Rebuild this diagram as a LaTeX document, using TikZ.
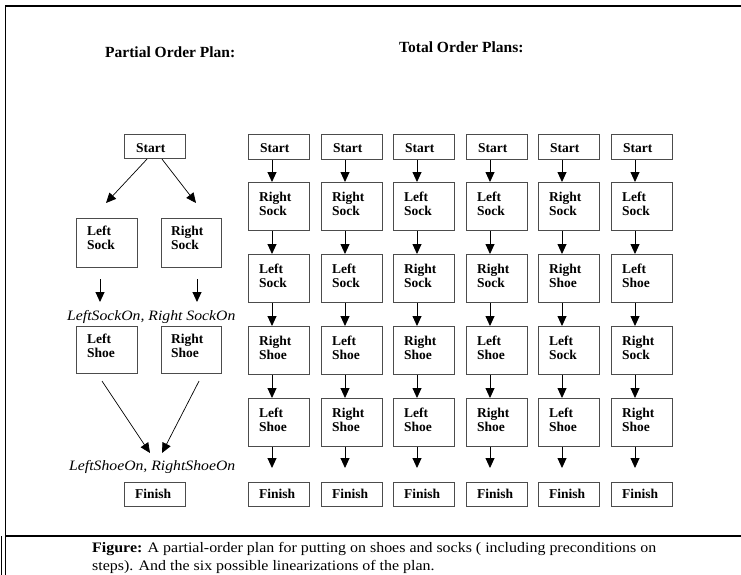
\documentclass[tikz,border=0pt]{standalone}
\usepackage{fontspec}
\usepackage{graphicx}
\setmainfont{Liberation Serif}
\usetikzlibrary{arrows.meta}
\newcommand\twoln[2]{\vtop{\baselineskip=14.5pt\hbox{#1}\hbox{#2}}}
\newcommand\RSk{\twoln{Right}{Sock}}
\newcommand\LSk{\twoln{Left}{Sock}}
\newcommand\RSh{\twoln{Right}{Shoe}}
\newcommand\LSh{\twoln{Left}{Shoe}}
\begin{document}
\begin{tikzpicture}[x=1pt,y=-1pt,
  stepbox/.style={draw=black!70, line width=1.1pt, minimum width=61pt, inner sep=0pt, anchor=north west},
  tallbox/.style={stepbox, minimum height=48pt},
  shortbox/.style={stepbox, minimum height=24pt},
  txt/.style={font=\fontsize{13.5}{14.5}\selectfont\bfseries, inner sep=0pt, anchor=base west},
  ttl/.style={font=\fontsize{15.5}{17}\selectfont\bfseries, inner sep=0pt, anchor=base west},
  itl/.style={font=\fontsize{14.3}{16}\selectfont\itshape, inner sep=0pt, anchor=base west},
  captxt/.style={font=\fontsize{14.5}{16}\selectfont, inner sep=0pt, anchor=base west},
  arr/.style={line width=0.9pt, -{Triangle[length=10pt,width=9pt]}},
  darr/.style={line width=0.7pt, -{Triangle[length=10pt,width=9pt]}},
]
\useasboundingbox (0,0) rectangle (741,575);
\fill[white] (0,0) rectangle (741,575);
% frame
\draw[line width=1.4pt] (5.5,575) -- (5.5,6) -- (741,6);
\draw[line width=1.2pt] (5.5,536) -- (741,536);
\draw[line width=1.2pt] (1.5,536) -- (1.5,575);
% titles
\node[ttl] (pt) at (105,58) {Partial Order Plan:};
\node[ttl] (tt) at (399,53) {Total Order Plans:};
% partial order plan
\node[shortbox] (ps) at (124,134) {};
\node[txt] (pst) at ([xshift=12pt,yshift=-18pt]ps.north west) {Start};
\node[tallbox, minimum height=49pt] (pls) at (76,218) {};
\node[txt] (plst) at ([xshift=11pt,yshift=-17pt]pls.north west) {\LSk};
\node[tallbox, minimum height=49pt, minimum width=60pt] (prs) at (161,218) {};
\node[txt] (prst) at ([xshift=10pt,yshift=-17pt]prs.north west) {\RSk};
\node[tallbox, minimum height=47pt] (plh) at (76,326) {};
\node[txt] (plht) at ([xshift=11pt,yshift=-17pt]plh.north west) {\LSh};
\node[tallbox, minimum height=47pt, minimum width=60pt] (prh) at (161,326) {};
\node[txt] (prht) at ([xshift=10pt,yshift=-17pt]prh.north west) {\RSh};
\node[shortbox] (pf) at (124,482) {};
\node[txt] (pft) at ([xshift=11pt,yshift=-16pt]pf.north west) {Finish};
\node[itl] (lab1) at (67,320) {\scalebox{1.1}[1]{LeftSockOn, Right SockOn}};
\node[itl] (lab2) at (69,470) {\scalebox{1.1}[1]{LeftShoeOn, RightShoeOn}};
\draw[darr] ([xshift=23pt]ps.south west) -- ([xshift=30pt,yshift=15pt]pls.north west);
\draw[darr] ([xshift=38pt]ps.south west) -- ([xshift=35pt,yshift=15pt]prs.north west);
\draw[arr] ([xshift=24pt,yshift=-11pt]pls.south west) -- ([xshift=24pt,yshift=24pt]plh.north west);
\draw[arr] ([xshift=36pt,yshift=-11pt]prs.south west) -- ([xshift=36pt,yshift=24pt]prh.north west);
\draw[darr] ([xshift=26pt,yshift=-7pt]plh.south west) -- ([xshift=26pt,yshift=29pt]pf.north west);
\draw[darr] ([xshift=38pt,yshift=-7pt]prh.south west) -- ([xshift=38pt,yshift=29pt]pf.north west);
% total order plans
\foreach \col/\xx/\p/\q/\r/\s in {1/248/\RSk/\LSk/\RSh/\LSh, 2/321/\RSk/\LSk/\LSh/\RSh, 3/393/\LSk/\RSk/\RSh/\LSh, 4/466/\LSk/\RSk/\LSh/\RSh, 5/538/\RSk/\RSh/\LSk/\LSh, 6/611/\LSk/\LSh/\RSk/\RSh}{
  \node[shortbox, minimum height=25pt] (c\col r0) at (\xx,134) {};
  \node[txt] (c\col t0) at ([xshift=12pt,yshift=-18pt]c\col r0.north west) {Start};
  \node[tallbox] (c\col r1) at (\xx,182) {};
  \node[txt] (c\col t1) at ([xshift=11pt,yshift=-19pt]c\col r1.north west) {\p};
  \node[tallbox] (c\col r2) at (\xx,254) {};
  \node[txt] (c\col t2) at ([xshift=11pt,yshift=-19pt]c\col r2.north west) {\q};
  \node[tallbox] (c\col r3) at (\xx,326) {};
  \node[txt] (c\col t3) at ([xshift=11pt,yshift=-19pt]c\col r3.north west) {\r};
  \node[tallbox] (c\col r4) at (\xx,398) {};
  \node[txt] (c\col t4) at ([xshift=11pt,yshift=-19pt]c\col r4.north west) {\s};
  \node[shortbox] (c\col r5) at (\xx,482) {};
  \node[txt] (c\col t5) at ([xshift=11pt,yshift=-16pt]c\col r5.north west) {Finish};
  \draw[arr] ([xshift=24pt]c\col r0.south west) -- ([xshift=24pt]c\col r1.north west);
  \draw[arr] ([xshift=24pt]c\col r1.south west) -- ([xshift=24pt]c\col r2.north west);
  \draw[arr] ([xshift=24pt]c\col r2.south west) -- ([xshift=24pt]c\col r3.north west);
  \draw[arr] ([xshift=24pt]c\col r3.south west) -- ([xshift=24pt]c\col r4.north west);
  \draw[arr] ([xshift=24pt]c\col r4.south west) -- ([xshift=24pt,yshift=14pt]c\col r5.north west);
}
% caption
\node[captxt] (cap1) at (92,552) {\scalebox{1.1}[1]{\textbf{Figure:} A partial-order plan for putting on shoes and socks ( including preconditions on}};
\node[captxt] (cap2) at (92,570) {\scalebox{1.1}[1]{steps). And the six possible linearizations of the plan.}};
\end{tikzpicture}
\end{document}
